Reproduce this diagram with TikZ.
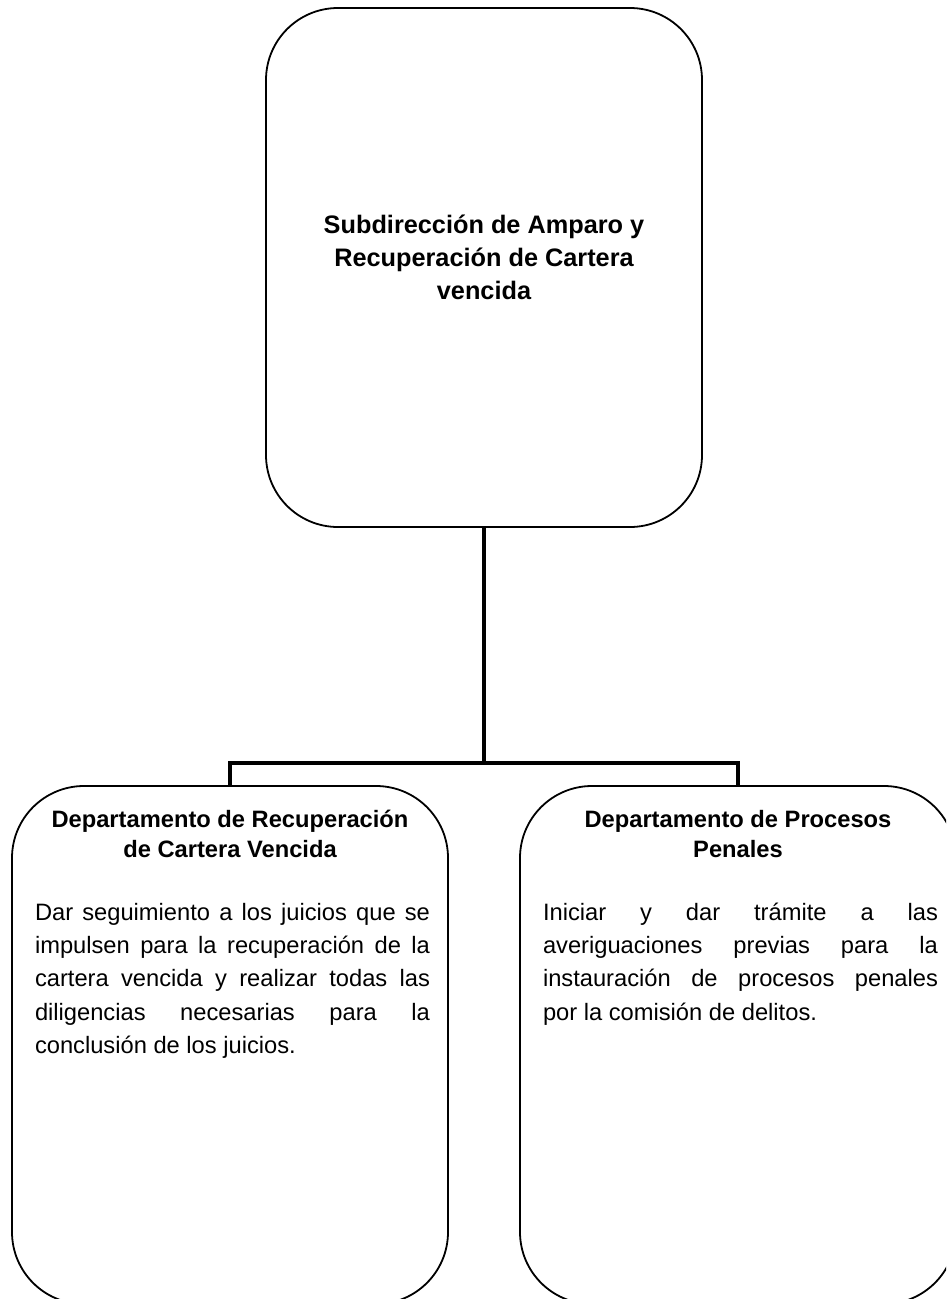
\documentclass[tikz,border=0pt]{standalone}
\usepackage{fontspec}
\setmainfont{Liberation Sans}
\setsansfont{Liberation Sans}
\usetikzlibrary{positioning}
\hbadness=10000
\newcommand{\jline}[1]{\hbox to \hsize{#1}}
\newcommand{\lastjline}[1]{\hbox to \hsize{#1\hfill}}

\begin{document}
\begin{tikzpicture}[
      x=1pt,y=1pt,
      unitbox/.style={draw,line width=1.8pt,rounded corners=72pt,inner sep=0pt,
        minimum width=436pt,minimum height=518pt},
      headtext/.style={align=center,inner sep=0pt,
        font=\bfseries\fontsize{23.7}{29.5}\selectfont},
      bodytext/.style={text width=395pt,align=justify,inner sep=0pt,
        font=\fontsize{23.7}{33.3}\selectfont},
      link/.style={line width=3.2pt}
    ]
      \useasboundingbox (0,0) rectangle (946,-1299);
      \clip (0,0) rectangle (946,-1299);
      % top unit
      \node[unitbox,minimum height=519pt] (subd) at (484,-267.5) {};
      \node[align=center,inner sep=0pt,anchor=base,
            font=\bfseries\fontsize{25.3}{33}\selectfont] (subdT)
            at ([yshift=-292pt]subd.north)
            {Subdirección de Amparo y\\Recuperación de Cartera\\vencida};
      % departments
      \node[unitbox] (recB) at (230,-1045) {};
      \node[unitbox] (penB) at (738,-1045) {};
      \node[headtext,anchor=base] (recT) at ([yshift=-72pt]recB.north)
            {Departamento de Recuperación\\de Cartera Vencida};
      \node[headtext,anchor=base] (penT) at ([yshift=-72pt]penB.north)
            {Departamento de Procesos\\Penales};
      \node[bodytext,anchor=base] (recD) at ([xshift=2.5pt,yshift=-135pt]recB.north)
            {\jline{Dar seguimiento a los juicios que se}
             \jline{impulsen para la recuperación de la}
             \jline{cartera vencida y realizar todas las}
             \jline{diligencias necesarias para la}
             \lastjline{conclusión de los juicios.}};
      \node[bodytext,anchor=base] (penD) at ([xshift=2.5pt,yshift=-135pt]penB.north)
            {\jline{Iniciar y dar trámite a las}
             \jline{averiguaciones previas para la}
             \jline{instauración de procesos penales}
             \lastjline{por la comisión de delitos.}};
      % connectors
      \draw[link] (subd.south) -- ++(0,-235) coordinate (bus);
      \draw[link] (recB.north) |- (bus) -| (penB.north);
    \end{tikzpicture}
\end{document}
